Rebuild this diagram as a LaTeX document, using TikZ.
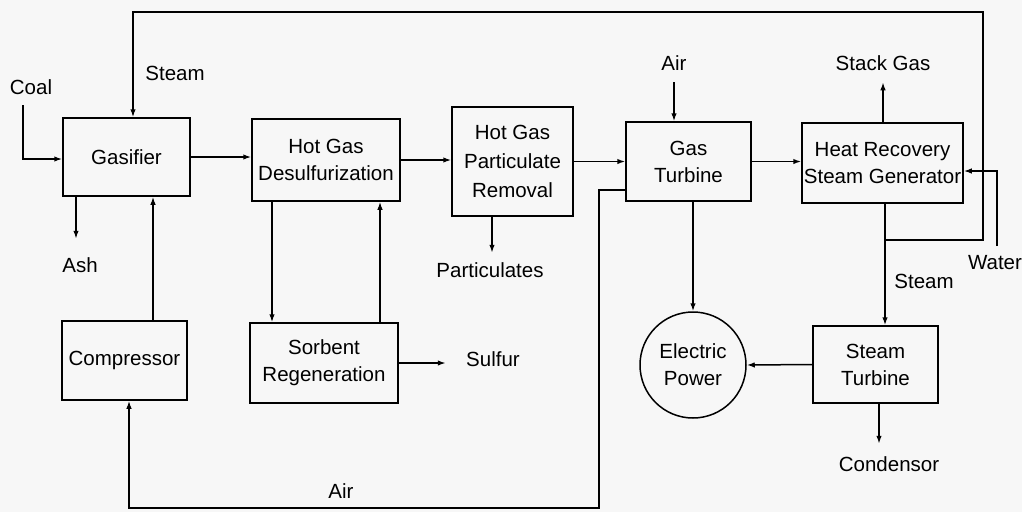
\documentclass[tikz,border=0pt]{standalone}
\usepackage{fontspec}
\setmainfont{Liberation Sans}
\usetikzlibrary{arrows.meta,calc}
\begin{document}
\begin{tikzpicture}[x=1pt,y=-1pt,
  font=\fontsize{20.5}{27}\selectfont,
  line width=1.5pt,
  blk/.style={draw,rectangle,align=center,inner sep=1pt},
  lbl/.style={inner sep=0pt},
  arr/.style={-{Latex[length=8pt,width=5.5pt]}}]
\fill[black!3] (0,0) rectangle (1022,512);
\useasboundingbox (0,0) rectangle (1022,512);
% blocks
\node[blk,minimum width=127,minimum height=78] (gas) at (126.5,157) {Gasifier};
\node[blk,minimum width=148,minimum height=82] (hgd) at (326,160) {Hot Gas\\Desulfurization};
\node[blk,minimum width=121,minimum height=109,font=\fontsize{20.5}{29}\selectfont] (pr) at (512.5,161.5) {Hot Gas\\Particulate\\Removal};
\node[blk,minimum width=125,minimum height=79] (gt) at (688.5,161.5) {Gas\\Turbine};
\node[blk,minimum width=161,minimum height=80] (hrsg) at (882.5,163) {Heat Recovery\\Steam Generator};
\node[blk,minimum width=125,minimum height=79] (comp) at (124.5,360.5) {Compressor};
\node[blk,minimum width=148,minimum height=80] (sorb) at (324,363) {Sorbent\\Regeneration};
\node[draw,circle,minimum size=106,align=center,inner sep=0pt] (ep) at (693,365) {Electric\\Power};
\node[blk,minimum width=125,minimum height=77] (st) at (875.5,364.5) {Steam\\Turbine};
% labels
\node[lbl] (lcoal) at (31,87) {Coal};
\node[lbl] (lsteam1) at (175,73) {Steam};
\node[lbl] (lash) at (80,265) {Ash};
\node[lbl] (lpart) at (490,270) {Particulates};
\node[lbl] (lsulf) at (493,359) {Sulfur};
\node[lbl] (lair1) at (674,63) {Air};
\node[lbl] (lstack) at (883,63) {Stack Gas};
\node[lbl] (lsteam2) at (924,281) {Steam};
\node[lbl] (lwater) at (995,263) {Water};
\node[lbl] (lcond) at (889,464) {Condensor};
\node[lbl] (lair2) at (341,491) {Air};
% coordinates
\coordinate (coalin) at (23,105);
\coordinate (sj) at (885,240);
\coordinate (tr) at (983,12);
\coordinate (waterin) at (997,246);
\coordinate (airin) at (674,82);
\coordinate (br) at (599,508);
% connectors
\draw[arr] (coalin) |- ([yshift=-2pt]gas.west);
\draw[arr] (gas.east) -- (gas.east -| hgd.west);
\draw[arr] (hgd.east) -- (hgd.east -| pr.west);
\draw[arr] (pr.east) -- (gt.west);
\draw[arr] (gt.east) -- (gt.east -| hrsg.west);
\draw[arr] (sj) -| (tr) -| ([xshift=6.5pt]gas.north);
\draw[arr] ([xshift=-50.5pt]gas.south) -- ++(0,42);
\draw[arr] ([xshift=28.5pt]comp.north) -- ([xshift=28.5pt]comp.north |- gas.south);
\draw[arr] ([xshift=-54pt]hgd.south) -- ([xshift=-54pt]hgd.south |- sorb.north);
\draw[arr] ([xshift=56pt]sorb.north) -- ([xshift=56pt]sorb.north |- hgd.south);
\draw[arr] (sorb.east) -- ++(47,0);
\draw[arr] ([xshift=-20.5pt]pr.south) -- ++(0,36);
\draw[arr] (airin) -- ([xshift=-14.5pt]gt.north);
\draw[arr] ([xshift=0.5pt]hrsg.north) -- ++(0,-40);
\draw[arr] (waterin) |- ([yshift=-8pt]hrsg.east);
\draw[arr] ([xshift=2.5pt]hrsg.south) -- ([xshift=2.5pt]hrsg.south |- st.north);
\draw[arr] (ep.north |- gt.south) -- (ep.north);
\draw[arr] (st.west) -- (ep.east);
\draw[arr] ([xshift=3.5pt]st.south) -- ++(0,40);
\draw[arr] ([yshift=-28.5pt]gt.west) -| (br) -| ([xshift=4.5pt]comp.south);
\end{tikzpicture}
\end{document}
